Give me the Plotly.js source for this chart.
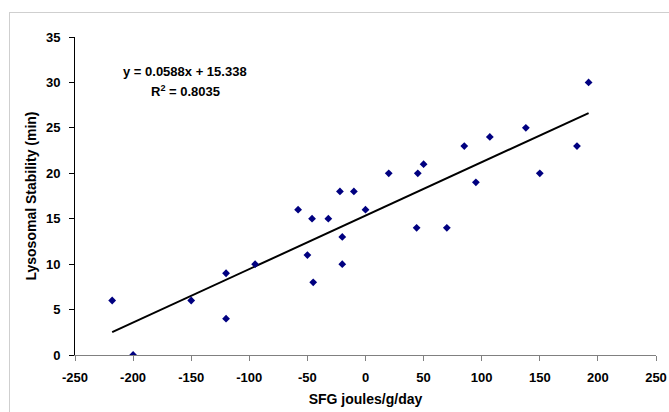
<!DOCTYPE html>
<html>
<head>
<meta charset="utf-8">
<script src="https://cdn.plot.ly/plotly-3.0.1.min.js"></script>
<style>
html,body{margin:0;padding:0;background:#fff;overflow:hidden;}
#wrap{position:relative;width:669px;height:412px;}
#frame{position:absolute;left:9px;top:12px;width:700px;height:450px;border:1px solid #cfcfcf;box-sizing:border-box;}
#chart{position:absolute;left:0;top:0;width:669px;height:412px;}
</style>
</head>
<body>
<div id="wrap"><div id="frame"></div><div id="chart"></div></div>
<script>
// Data
const sfg = [-218, -200, -150, -120, -120, -95, -58, -50, -46, -45, -32, -22, -20, -20, -10, 0, 20, 45, 44, 50, 70, 85, 95, 107, 138, 150, 182, 192];
const stability = [6, 0, 6, 9, 4, 10, 16, 11, 15, 8, 15, 18, 13, 10, 18, 16, 20, 20, 14, 21, 14, 23, 19, 24, 25, 20, 23, 30];
const slope = 0.0588;
const intercept = 15.338;
const rSquared = 0.8035;
const xTicks = [-250, -200, -150, -100, -50, 0, 50, 100, 150, 200, 250];
const yTicks = [0, 5, 10, 15, 20, 25, 30, 35];

const xMin = Math.min(...sfg), xMax = Math.max(...sfg);
const trendX = [xMin, xMax];
const trendY = trendX.map(x => slope * x + intercept);

const fam = 'Liberation Sans, Arial, sans-serif';
const tickF = {family: fam, size: 13, color: '#000', weight: 700};
const titleF = {family: fam, size: 14, color: '#000', weight: 700};
const annF = {family: fam, size: 13, color: '#000', weight: 700};

const traces = [
  {x: trendX, y: trendY, mode: 'lines', type: 'scatter', line: {color: '#000', width: 2}, hoverinfo: 'skip', showlegend: false},
  {x: sfg, y: stability, mode: 'markers', type: 'scatter',
   marker: {symbol: 'diamond', size: 6, color: '#000080', line: {width: 0}}, showlegend: false}
];

const layout = {
  width: 669, height: 412,
  margin: {l: 75, r: 13, t: 37, b: 57},
  paper_bgcolor: 'rgba(0,0,0,0)', plot_bgcolor: 'rgba(0,0,0,0)',
  font: tickF,
  showlegend: false,
  xaxis: {
    range: [-250, 250], tickvals: xTicks, ticktext: xTicks.map(v => '<b>' + v + '</b>'),
    showgrid: false, zeroline: false, showline: true, linecolor: '#808080', linewidth: 1,
    ticks: 'outside', ticklen: 5, tickcolor: '#808080', tickwidth: 1,
    ticklabelstandoff: 5,
    tickfont: tickF,
    title: {text: '<b>SFG joules/g/day</b>', font: titleF, standoff: 10}
  },
  yaxis: {
    range: [0, 35], tickvals: yTicks, ticktext: yTicks.map(v => '<b>' + v + '</b>'),
    showgrid: false, zeroline: false, showline: true, linecolor: '#000', linewidth: 1,
    ticks: 'outside', ticklen: 5, tickcolor: '#000', tickwidth: 1,
    ticklabelstandoff: 6,
    tickfont: tickF,
    title: {text: '<b>Lysosomal Stability (min)</b>', font: titleF, standoff: 6}
  },
  annotations: [
    {xref: 'paper', yref: 'paper', x: (185 - 75) / 581, y: (355 - 71) / 318, xanchor: 'center', yanchor: 'middle',
     text: '<b>y = ' + slope + 'x + ' + intercept + '</b>', showarrow: false, font: annF},
    {xref: 'paper', yref: 'paper', x: (185 - 75) / 581, y: (355 - 91) / 318, xanchor: 'center', yanchor: 'middle',
     text: '<b>R<sup>2</sup> = ' + rSquared + '</b>', showarrow: false, font: annF}
  ]
};

Plotly.newPlot('chart', traces, layout, {displayModeBar: false, staticPlot: true});
</script>
</body>
</html>
